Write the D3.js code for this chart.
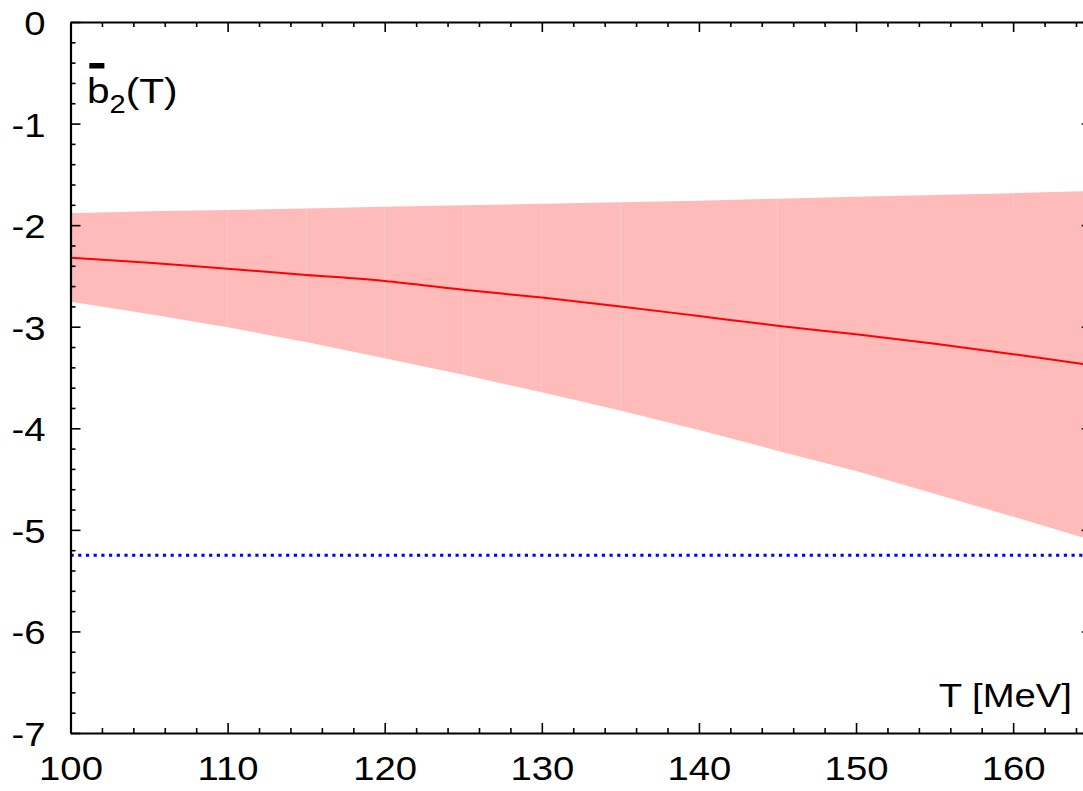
<!DOCTYPE html>
<html>
<head>
<meta charset="utf-8">
<script src="https://cdn.jsdelivr.net/npm/d3@7"></script>
<style>
  html, body { margin: 0; padding: 0; background: #fff; }
  svg { display: block; }
  text { font-family: "Liberation Sans", Arial, Helvetica, sans-serif; fill: #000; }
</style>
</head>
<body>
<svg id="chart" width="1083" height="791"></svg>
<script>
// ---- data ----
const temps   = [100, 105, 110, 115, 120, 125, 130, 135, 140, 145, 150, 160, 165];
const bandUp  = [-1.883, -1.864, -1.85, -1.836, -1.818, -1.804, -1.79, -1.775, -1.759, -1.74, -1.72, -1.685, -1.665];
const bandLo  = [-2.753, -2.874, -3.005, -3.15, -3.31, -3.474, -3.645, -3.826, -4.016, -4.22, -4.42, -4.87, -5.10];
const central = [-2.32, -2.37, -2.43, -2.49, -2.55, -2.636, -2.713, -2.80, -2.895, -2.99, -3.075, -3.27, -3.38];
const refLevel = -5.25;
const xTicks = [100, 110, 120, 130, 140, 150, 160];
const yTicks = [0, -1, -2, -3, -4, -5, -6, -7];
const xLabel = "T [MeV]";

// ---- layout ----
const svg = d3.select("#chart");
const L = 70.5, R = 1091.7, T = 22, B = 733;
const x = d3.scaleLinear().domain([100, 165]).range([L, R]);
const y = d3.scaleLinear().domain([-7, 0]).range([B, T]);
const FS = 33, SX = 1.16;
const noLabel = () => "";

// ---- band (segments, like the original) ----
const pts = temps.map((t, i) => ({t, up: bandUp[i], lo: bandLo[i], c: central[i]}));
const area = d3.area().x(d => x(d.t)).y0(d => y(d.lo)).y1(d => y(d.up));
const segs = d3.range(pts.length - 1).map(i => [pts[i], pts[i + 1]]);
svg.append("g").selectAll("path").data(segs).join("path")
  .attr("d", area).attr("fill", "#ffbaba").attr("stroke", "none");

// ---- central line ----
svg.append("path").datum(pts)
  .attr("d", d3.line().curve(d3.curveMonotoneX).x(d => x(d.t)).y(d => y(d.c)))
  .attr("fill", "none").attr("stroke", "#ff0000").attr("stroke-width", 2);

// ---- blue dotted reference ----
svg.append("path").datum([100, 165])
  .attr("d", d3.line().x(d => x(d)).y(() => y(refLevel)))
  .attr("fill", "none").attr("stroke", "#0000ff").attr("stroke-width", 3.2)
  .attr("stroke-dasharray", "3.2,4.5");

// ---- axes ----
const xMinor = d3.range(100, 165.01, 2).filter(v => v % 10 !== 0);
const yMinor = d3.range(-70, 1, 2).map(v => v / 10).filter(v => Math.abs(v - Math.round(v)) > 1e-6);

function styleAxis(g) {
  g.select(".domain").attr("stroke-width", 2.2).attr("stroke", "#000");
  g.selectAll(".tick line").attr("stroke-width", 1.6).attr("stroke", "#000");
}

// bottom
const gb = svg.append("g").attr("transform", `translate(0,${B})`)
  .call(d3.axisBottom(x).tickValues(xTicks).tickFormat(d3.format("d"))
    .tickSizeInner(-10).tickSizeOuter(0).tickPadding(24));
gb.append("g").call(d3.axisBottom(x).tickValues(xMinor).tickFormat(noLabel).tickSizeInner(-5).tickSizeOuter(0))
  .call(g => g.select(".domain").remove()).call(styleAxis);
styleAxis(gb);
gb.selectAll(":scope > .tick text")
  .attr("font-size", FS).attr("font-family", "Liberation Sans, Arial, sans-serif")
  .attr("fill", "#000").attr("transform", `scale(${SX},1)`);

// top
const gt = svg.append("g").attr("transform", `translate(0,${T})`)
  .call(d3.axisTop(x).tickValues(xTicks).tickFormat(noLabel).tickSizeInner(-10).tickSizeOuter(0));
gt.append("g").call(d3.axisTop(x).tickValues(xMinor).tickFormat(noLabel).tickSizeInner(-5).tickSizeOuter(0))
  .call(g => g.select(".domain").remove()).call(styleAxis);
styleAxis(gt);

// left
const gl = svg.append("g").attr("transform", `translate(${L},0)`)
  .call(d3.axisLeft(y).tickValues(yTicks).tickFormat(d => String(d))
    .tickSizeInner(-10).tickSizeOuter(0).tickPadding(25));
gl.append("g").call(d3.axisLeft(y).tickValues(yMinor).tickFormat(noLabel).tickSizeInner(-5).tickSizeOuter(0))
  .call(g => g.select(".domain").remove()).call(styleAxis);
styleAxis(gl);
gl.selectAll(":scope > .tick text")
  .attr("font-size", FS).attr("font-family", "Liberation Sans, Arial, sans-serif")
  .attr("fill", "#000")
  .attr("x", -25 / SX).attr("dy", "0.38em").attr("transform", `scale(${SX},1)`);

// right
const gr = svg.append("g").attr("transform", `translate(${R},0)`)
  .call(d3.axisRight(y).tickValues(yTicks).tickFormat(noLabel).tickSizeInner(-10).tickSizeOuter(0));
gr.append("g").call(d3.axisRight(y).tickValues(yMinor).tickFormat(noLabel).tickSizeInner(-5).tickSizeOuter(0))
  .call(g => g.select(".domain").remove()).call(styleAxis);
styleAxis(gr);

// ---- labels ----
const lab = svg.append("g").attr("transform", `translate(87,103) scale(${SX},1)`);
const yl = lab.append("text").attr("x", 0).attr("y", 0).attr("font-size", 35);
yl.append("tspan").text("b");
yl.append("tspan").attr("font-size", 25).attr("dy", 10).text("2");
yl.append("tspan").attr("dy", -10).text("(T)");
lab.append("rect").attr("x", 2).attr("y", -40).attr("width", 13).attr("height", 5.5).attr("fill", "#000");

svg.append("g").attr("transform", `translate(1072,707) scale(${SX},1)`)
  .append("text").attr("text-anchor", "end").attr("font-size", FS).text(xLabel);
</script>
</body>
</html>
